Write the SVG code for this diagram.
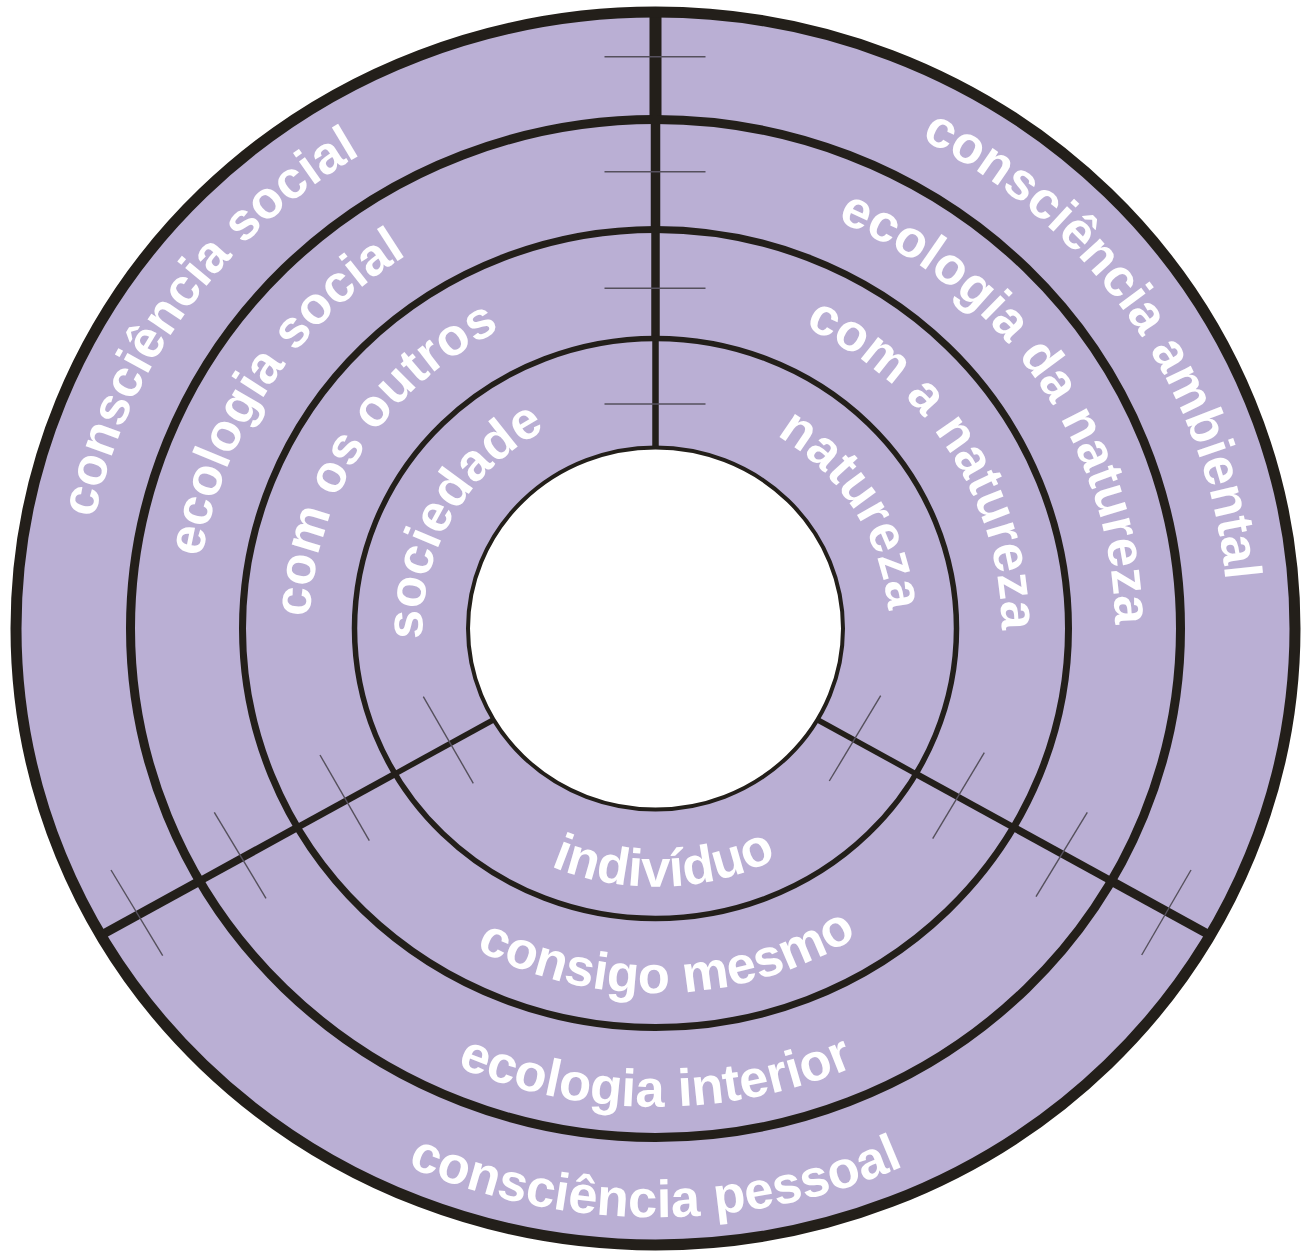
<svg xmlns="http://www.w3.org/2000/svg" xmlns:xlink="http://www.w3.org/1999/xlink" width="1311" height="1255" viewBox="0 0 1311 1255">
<style>
  .ring { fill: none; stroke: #231F1A; }
  .div { stroke: #231F1A; stroke-linecap: butt; }
  .tick { stroke: #55505C; stroke-width: 1.4; }
  .lbl { fill: #FFFFFF; font-family: "Liberation Sans", Arial, sans-serif; font-weight: bold; font-size: 52.5px; }
</style>
<defs>
  <path id="p-cs" d="M291.4,1055.2 A572.4,553 0 0 1 937.3,147.2"/>
  <path id="p-es" d="M375.8,980.8 A459.5,444 0 0 1 867.7,234.7"/>
  <path id="p-co" d="M447.2,895.6 A346.2,334.5 0 0 1 812.7,330.5"/>
  <path id="p-so" d="M525.0,815.4 A233.4,225.5 0 0 1 750.4,422.5"/>
  <path id="p-ca" d="M386.8,140.3 A572.4,553 0 0 1 1007.9,1064.3"/>
  <path id="p-en" d="M439.8,236.5 A459.5,444 0 0 1 938.4,978.4"/>
  <path id="p-cn" d="M501.0,329.2 A346.2,334.5 0 0 1 861.4,897.4"/>
  <path id="p-na" d="M553.2,425.8 A233.4,225.5 0 0 1 792.7,810.9"/>
  <path id="p-in" d="M390.0,660.0 A267.5,258.5 0 0 0 922.6,642.0"/>
  <path id="p-cm" d="M281.0,672.9 A377.3,364.5 0 0 0 1032.3,647.6"/>
  <path id="p-ei" d="M162.2,670.2 A495.2,478.5 0 0 0 1148.8,670.2"/>
  <path id="p-cp" d="M48.7,679.8 A609.1,588.5 0 0 0 1262.3,679.8"/>
</defs>

<g id="disc">
  <ellipse cx="655.5" cy="628.5" rx="639.5" ry="616.5" fill="#BAAFD4"/>
</g>

<g id="connectors">
  <line class="div" x1="655.5" y1="11" x2="655.5" y2="120" stroke-width="12"/>
  <line class="div" x1="655.5" y1="120" x2="655.5" y2="230" stroke-width="9.5"/>
  <line class="div" x1="655.5" y1="230" x2="655.5" y2="338.5" stroke-width="8.5"/>
  <line class="div" x1="655.5" y1="338.5" x2="655.5" y2="452" stroke-width="6.5"/>

  <line class="div" x1="100.8" y1="935.4" x2="199.8" y2="881" stroke-width="9"/>
  <line class="div" x1="199.8" y1="881" x2="297.6" y2="827.3" stroke-width="7.5"/>
  <line class="div" x1="297.6" y1="827.3" x2="395.1" y2="773.8" stroke-width="6.5"/>
  <line class="div" x1="395.1" y1="773.8" x2="494" y2="719.5" stroke-width="5.5"/>

  <line class="div" x1="1210.2" y1="935.4" x2="1111.2" y2="881" stroke-width="9"/>
  <line class="div" x1="1111.2" y1="881" x2="1013.4" y2="827.3" stroke-width="7.5"/>
  <line class="div" x1="1013.4" y1="827.3" x2="915.9" y2="773.8" stroke-width="6.5"/>
  <line class="div" x1="915.9" y1="773.8" x2="817" y2="719.5" stroke-width="5.5"/>
</g>

<g id="ticks">
  <line class="tick" x1="604.5" y1="56.7" x2="705.5" y2="56.7"/>
  <line class="tick" x1="604.5" y1="171.7" x2="705.5" y2="171.7"/>
  <line class="tick" x1="604.5" y1="288.3" x2="705.5" y2="288.3"/>
  <line class="tick" x1="604.5" y1="404" x2="705.5" y2="404"/>
  <line class="tick" x1="423.3" y1="696.7" x2="473.3" y2="783.3"/>
  <line class="tick" x1="320" y1="755" x2="369.3" y2="840.7"/>
  <line class="tick" x1="214.3" y1="812.3" x2="266" y2="898.3"/>
  <line class="tick" x1="111" y1="870" x2="162.7" y2="955.7"/>
  <line class="tick" x1="880.7" y1="695.7" x2="829.3" y2="781"/>
  <line class="tick" x1="984.3" y1="752.7" x2="932.7" y2="838.7"/>
  <line class="tick" x1="1087.3" y1="812.3" x2="1036" y2="896.7"/>
  <line class="tick" x1="1191" y1="870" x2="1141.7" y2="955"/>
</g>

<g id="center">
  <ellipse cx="655.5" cy="628.5" rx="187.5" ry="181" fill="#FFFFFF" stroke="#231F1A" stroke-width="4"/>
</g>

<g id="rings">
  <ellipse class="ring" cx="655.5" cy="628.5" rx="301" ry="290" stroke-width="5.5"/>
  <ellipse class="ring" cx="655.5" cy="628.5" rx="413" ry="399" stroke-width="7"/>
  <ellipse class="ring" cx="655.5" cy="628.5" rx="525" ry="509" stroke-width="9"/>
  <ellipse class="ring" cx="655.5" cy="628.5" rx="639.5" ry="616.5" stroke-width="11"/>
</g>

<g id="label-consciencia-social"><text class="lbl"><textPath xlink:href="#p-cs" href="#p-cs" startOffset="50%" text-anchor="middle">consciência social</textPath></text></g>
<g id="label-ecologia-social"><text class="lbl"><textPath xlink:href="#p-es" href="#p-es" startOffset="50%" text-anchor="middle">ecologia social</textPath></text></g>
<g id="label-com-os-outros"><text class="lbl"><textPath xlink:href="#p-co" href="#p-co" startOffset="50%" text-anchor="middle">com os outros</textPath></text></g>
<g id="label-sociedade"><text class="lbl"><textPath xlink:href="#p-so" href="#p-so" startOffset="50%" text-anchor="middle">sociedade</textPath></text></g>
<g id="label-consciencia-ambiental"><text class="lbl"><textPath xlink:href="#p-ca" href="#p-ca" startOffset="50%" text-anchor="middle">consciência ambiental</textPath></text></g>
<g id="label-ecologia-da-natureza"><text class="lbl"><textPath xlink:href="#p-en" href="#p-en" startOffset="50%" text-anchor="middle">ecologia da natureza</textPath></text></g>
<g id="label-com-a-natureza"><text class="lbl"><textPath xlink:href="#p-cn" href="#p-cn" startOffset="50%" text-anchor="middle">com a natureza</textPath></text></g>
<g id="label-natureza"><text class="lbl"><textPath xlink:href="#p-na" href="#p-na" startOffset="50%" text-anchor="middle">natureza</textPath></text></g>
<g id="label-individuo"><text class="lbl"><textPath xlink:href="#p-in" href="#p-in" startOffset="50%" text-anchor="middle">indivíduo</textPath></text></g>
<g id="label-consigo-mesmo"><text class="lbl"><textPath xlink:href="#p-cm" href="#p-cm" startOffset="50%" text-anchor="middle">consigo mesmo</textPath></text></g>
<g id="label-ecologia-interior"><text class="lbl"><textPath xlink:href="#p-ei" href="#p-ei" startOffset="50%" text-anchor="middle">ecologia interior</textPath></text></g>
<g id="label-consciencia-pessoal"><text class="lbl"><textPath xlink:href="#p-cp" href="#p-cp" startOffset="50%" text-anchor="middle">consciência pessoal</textPath></text></g>
</svg>
